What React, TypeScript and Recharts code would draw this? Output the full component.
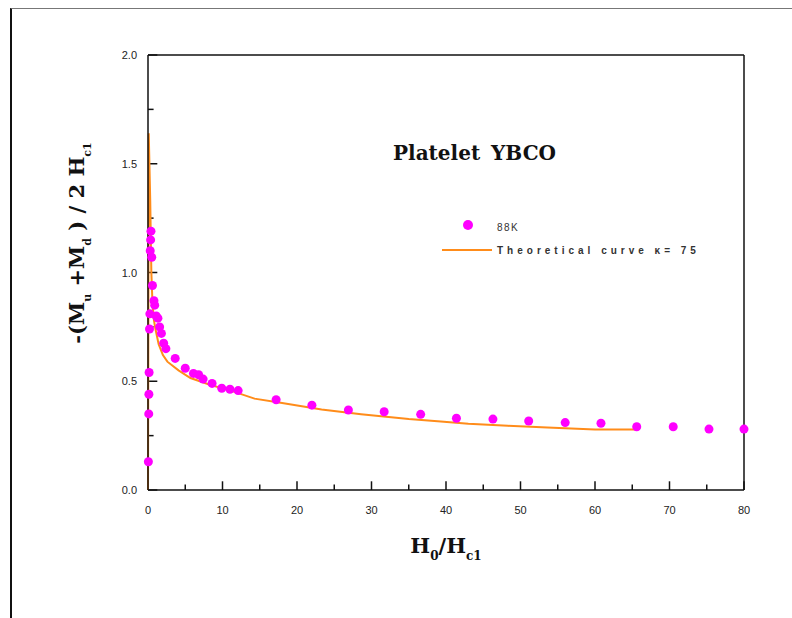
import React from 'react';
import { ComposedChart, Line, Scatter, XAxis, YAxis, ReferenceLine } from 'recharts';

// measured points, 88K
const expX = [0.05, 0.1, 0.12, 0.15, 0.2, 0.25, 0.3, 0.35, 0.4, 0.5, 0.6, 0.8, 0.9, 1.1, 1.33, 1.56, 1.8, 2.1, 2.4, 3.65, 5.0, 6.1, 6.8, 7.4, 8.6, 9.9, 11.0, 12.1, 17.2, 22.0, 26.9, 31.7, 36.6, 41.4, 46.3, 51.1, 56.0, 60.8, 65.6, 70.5, 75.3, 80.0];
const expY = [0.13, 0.35, 0.44, 0.54, 0.74, 0.81, 1.1, 1.15, 1.19, 1.07, 0.94, 0.87, 0.85, 0.8, 0.79, 0.75, 0.72, 0.675, 0.65, 0.605, 0.56, 0.536, 0.53, 0.51, 0.49, 0.468, 0.463, 0.457, 0.415, 0.39, 0.368, 0.36, 0.348, 0.33, 0.326, 0.317, 0.31, 0.307, 0.291, 0.291, 0.28, 0.28];

// theoretical curve, kappa = 75
const theoX = [0.0, 0.1, 0.3, 0.45, 0.6, 0.8, 1.0, 1.43, 2.0, 2.6, 4.1, 5.7, 8.4, 11.1, 14.3, 18, 23.3, 28.6, 35, 39.3, 43, 48.3, 53.6, 60, 65.4];
const theoY = [0.0, 1.64, 1.33, 1.0, 0.86, 0.78, 0.74, 0.67, 0.62, 0.59, 0.55, 0.515, 0.483, 0.457, 0.42, 0.4, 0.37, 0.348, 0.326, 0.315, 0.305, 0.295, 0.287, 0.278, 0.278];

const xTicks = [0, 5, 10, 15, 20, 25, 30, 35, 40, 45, 50, 55, 60, 65, 70, 75, 80];
const yTicks = [0, 0.25, 0.5, 0.75, 1.0, 1.25, 1.5, 1.75, 2.0];

const expData = expX.map((x, i) => ({ x, y: expY[i] }));
const theoData = theoX.map((x, i) => ({ x, y: theoY[i] }));

const tickFont = { fontFamily: 'Liberation Sans, Arial, sans-serif', fontSize: 11, fill: '#222' };
const serif = 'DejaVu Serif, Liberation Serif, serif';

const isMajorX = (v: number) => v % 10 === 0;
const isMajorY = (v: number) => Math.abs((v * 2) % 1) < 1e-6;

const XTick = (props: any) => {
  const { x, y, payload } = props;
  if (!isMajorX(payload.value)) return <g />;
  return <text x={x} y={y + 24} textAnchor="middle" {...tickFont}>{payload.value}</text>;
};

const YTick = (props: any) => {
  const { x, y, payload } = props;
  if (!isMajorY(payload.value)) return <g />;
  return <text x={x - 11} y={y + 4} textAnchor="end" {...tickFont}>{payload.value.toFixed(1)}</text>;
};

const Dot = (props: any) => <circle cx={props.cx} cy={props.cy} r={4.5} fill="#ff00ff" />;

export default function App() {
  return (
    <div style={{ position: 'absolute', left: 0, top: 0, width: 792, height: 618, background: '#fff' }}>
      <div style={{ position: 'absolute', left: 10, top: 8, width: 782, height: 610, borderTop: '1.5px solid #777', borderLeft: '2px solid #111' }} />
      <ComposedChart width={792} height={618} margin={{ top: 55, right: 48, left: 88, bottom: 98 }}>
        <XAxis
          type="number"
          dataKey="x"
          domain={[0, 80]}
          ticks={xTicks}
          interval={0}
          height={30}
          tickSize={0}
          tickMargin={0}
          tickLine={false}
          axisLine={{ stroke: '#111', strokeWidth: 1.5 }}
          tick={<XTick />}
        />
        <YAxis
          type="number"
          dataKey="y"
          domain={[0, 2]}
          ticks={yTicks}
          interval={0}
          width={60}
          tickSize={0}
          tickMargin={0}
          tickLine={false}
          axisLine={{ stroke: '#111', strokeWidth: 1.5 }}
          tick={<YTick />}
        />
        <ReferenceLine y={2} stroke="#111" strokeWidth={1.5} />
        <ReferenceLine x={80} stroke="#111" strokeWidth={1.5} />
        {/* inward tick marks, major and minor */}
        {xTicks.map((v) => (
          <ReferenceLine
            key={`xt${v}`}
            segment={[{ x: v, y: 0 }, { x: v, y: isMajorX(v) ? 0.04 : 0.025 }]}
            stroke="#111"
            strokeWidth={1.5}
          />
        ))}
        {yTicks.map((v) => (
          <ReferenceLine
            key={`yt${v}`}
            segment={[{ x: 0, y: v }, { x: isMajorY(v) ? 1.25 : 0.75, y: v }]}
            stroke="#111"
            strokeWidth={1.5}
          />
        ))}
        <Scatter name="88K" data={expData} shape={<Dot />} isAnimationActive={false} />
        <Line
          name="Theoretical curve"
          data={theoData}
          dataKey="y"
          type="linear"
          stroke="#ff8c1a"
          strokeWidth={2}
          dot={false}
          activeDot={false}
          isAnimationActive={false}
        />
      </ComposedChart>
      <svg width={792} height={618} style={{ position: 'absolute', left: 0, top: 0, pointerEvents: 'none' }}>
        <text x={393} y={160} fontFamily={serif} fontWeight="bold" fontSize={20} fill="#111" wordSpacing={4}>
          Platelet YBCO
        </text>
        <circle cx={468} cy={225} r={5} fill="#ff00ff" />
        <text x={497} y={231} fontFamily={tickFont.fontFamily} fontSize={10} fill="#333" letterSpacing={1.5}>88K</text>
        <line x1={442} y1={250} x2={492} y2={250} stroke="#ff8c1a" strokeWidth={2} />
        <text x={497} y={254} fontFamily={tickFont.fontFamily} fontSize={10} fontWeight="bold" fill="#333" letterSpacing={4}>
          Theoretical curve κ= 75
        </text>
        <text transform="translate(84,243) rotate(-90)" textAnchor="middle" fontFamily={serif} fontWeight="bold" fontSize={21} fill="#111">
          -(M<tspan dy={7} fontSize={11}>u</tspan>
          <tspan dy={-7}> +M</tspan>
          <tspan dy={7} fontSize={11}>d</tspan>
          <tspan dy={-7}> ) / 2 H</tspan>
          <tspan dy={7} fontSize={11}>c1</tspan>
        </text>
        <text x={446} y={553} textAnchor="middle" fontFamily={serif} fontWeight="bold" fontSize={21} fill="#111">
          H<tspan dy={7} fontSize={12}>0</tspan>
          <tspan dy={-7}>/H</tspan>
          <tspan dy={7} fontSize={12}>c1</tspan>
        </text>
      </svg>
    </div>
  );
}
